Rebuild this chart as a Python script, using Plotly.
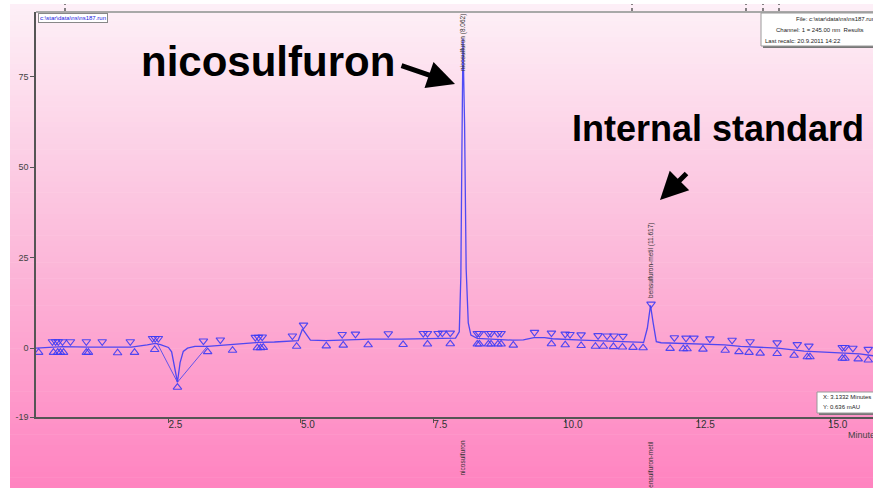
import plotly.graph_objects as go

# ---------------- data ----------------
time_min = [0.00, 0.30, 0.50, 1.00, 1.50, 1.80, 2.10, 2.25, 2.35, 2.50, 2.56, 2.62, 2.67, 2.72,
            2.78, 2.86, 3.00, 3.24, 3.50, 3.70, 4.00, 4.20, 4.50, 4.80, 4.95, 5.03, 5.18,
            5.48, 5.80, 6.30, 6.90, 7.40, 7.70, 7.92, 7.99, 8.02, 8.04, 8.06, 8.09, 8.12,
            8.16, 8.21, 8.33, 8.60, 9.00, 9.20, 9.40, 9.60, 9.75, 10.30, 10.90, 11.30,
            11.47, 11.54, 11.60, 11.65, 11.71, 11.80, 12.00, 12.30, 12.60, 13.00, 13.30,
            13.70, 14.00, 14.50, 14.90, 15.30, 15.55, 15.80]
signal_mau = [0.0, 0.3, 0.4, 0.3, 0.2, 0.3, 0.9, 1.3, 1.0, 0.2, -1.0, -6.0, -9.4, -4.0,
              -0.9, 0.0, 0.5, 0.5, 0.8, 0.9, 1.3, 1.6, 1.7, 1.9, 2.1, 5.3, 2.2,
              2.1, 2.3, 2.5, 2.5, 2.6, 2.7, 2.8, 4.5, 20.0, 55.0, 85.5, 62.0, 22.0,
              7.0, 3.6, 2.7, 2.5, 2.2, 2.3, 2.9, 2.9, 2.6, 2.2, 1.9, 1.7,
              1.6, 5.5, 11.8, 7.0, 1.8, 1.5, 1.4, 1.3, 1.2, 0.9, 0.5,
              0.1, 0.0, -0.8, -1.1, -1.3, -1.6, -2.1]

# integration baseline drawn across the negative dip
dip_base_t = [2.29, 2.67, 3.24]
dip_base_y = [1.3, -9.4, 0.6]

# peak start markers (drawn above trace)
start_t = [0.31, 0.37, 0.42, 0.50, 0.65, 0.95, 1.25, 1.78, 2.20, 2.25, 2.31, 3.16, 3.48, 4.14,
           4.20, 4.27, 4.84, 5.05, 5.78, 6.03, 6.65, 7.31, 7.39, 7.59, 7.67, 7.82, 8.33, 8.37,
           8.54, 8.59, 8.72, 8.78, 9.41, 9.73, 9.99, 10.08, 10.29, 10.61, 10.78, 10.91, 11.08,
           11.61, 12.05, 12.27, 12.42, 12.72, 13.14, 13.48, 13.99, 14.37, 14.59, 15.22, 15.27,
           15.42, 15.71]
start_y = [1.8, 1.8, 1.8, 1.8, 1.8, 1.8, 1.8, 1.8, 2.7, 2.7, 2.7, 2.0, 2.3, 3.0,
           3.0, 3.1, 3.4, 6.4, 3.8, 3.9, 4.0, 4.1, 4.1, 4.1, 4.2, 4.2, 4.1, 4.1,
           4.1, 4.1, 4.1, 4.1, 4.4, 4.2, 3.9, 3.8, 3.7, 3.5, 3.4, 3.4, 3.3,
           12.2, 2.9, 2.8, 2.8, 2.6, 2.2, 1.8, 1.5, 1.0, 0.6, 0.2, 0.2,
           0.0, -0.3]

# peak end markers (drawn below trace)
end_t = [0.05, 0.33, 0.41, 0.46, 0.52, 0.95, 0.99, 1.54, 1.86, 2.24, 2.67, 3.24, 3.71, 4.18,
         4.24, 4.29, 4.92, 5.48, 5.80, 6.27, 6.93, 7.39, 7.82, 8.33, 8.37, 8.54, 8.59, 8.72,
         8.78, 9.01, 9.73, 9.99, 10.29, 10.56, 10.71, 10.90, 11.07, 11.27, 11.46, 11.97, 12.22,
         12.29, 12.59, 13.01, 13.27, 13.46, 13.67, 13.99, 14.31, 14.56, 14.61, 15.22, 15.27,
         15.52, 15.71]
end_y = [-1.2, -1.2, -1.2, -1.2, -1.2, -1.2, -1.2, -1.3, -1.2, -0.4, -10.8, -1.0, -0.6, 0.1,
         0.1, 0.2, 0.5, 0.6, 0.8, 0.9, 1.0, 1.1, 1.2, 1.1, 1.1, 1.1, 1.1, 1.1,
         1.1, 0.8, 1.2, 0.9, 0.7, 0.5, 0.5, 0.4, 0.3, 0.2, 0.1, -0.1, -0.2,
         -0.2, -0.3, -0.6, -1.0, -1.2, -1.4, -1.5, -2.0, -2.4, -2.4, -2.8, -2.8,
         -3.0, -3.3]

x_tick_vals = [2.5, 5.0, 7.5, 10.0, 12.5, 15.0]
x_tick_text = ["2.5", "5.0", "7.5", "10.0", "12.5", "15.0"]
y_tick_vals = [-19, 0, 25, 50, 75]
y_tick_text = ["-19", "0", "25", "50", "75"]

peak_names = ["nicosulfuron", "bensulfuron-metil"]
peak_times = [8.062, 11.617]
peak_heights = [85.5, 11.8]

# ---------------- layout helpers ----------------
W, H = 873, 488
L, R, T, B = 36, 0, 12, 71
PW, PH = W - L - R, H - T - B


def px(xp):
    return (xp - L) / PW


def py(yp):
    return (H - B - yp) / PH


fig = go.Figure()

fig.add_trace(go.Scatter(x=dip_base_t, y=dip_base_y, mode="lines",
                         line=dict(color="rgba(70,70,240,0.85)", width=1),
                         hoverinfo="skip", showlegend=False))
fig.add_trace(go.Scatter(x=time_min, y=signal_mau, mode="lines",
                         line=dict(color="rgba(60,60,245,0.9)", width=1.3),
                         showlegend=False))
fig.add_trace(go.Scatter(x=start_t, y=start_y, mode="markers",
                         marker=dict(symbol="triangle-down-open", size=7.5,
                                     color="rgba(60,60,245,0.9)", line=dict(width=1.1)),
                         showlegend=False))
fig.add_trace(go.Scatter(x=end_t, y=end_y, mode="markers",
                         marker=dict(symbol="triangle-up-open", size=7.5,
                                     color="rgba(60,60,245,0.9)", line=dict(width=1.1)),
                         showlegend=False))

shapes = []
# gradient background bands
stops = [(4, (253, 240, 247)), (250, (252, 186, 218)), (488, (255, 131, 192))]
n = 90
y_top, y_bot = 4, 488
for i in range(n):
    a = y_top + (y_bot - y_top) * i / n
    b = y_top + (y_bot - y_top) * (i + 1) / n
    m = (a + b) / 2
    if m <= stops[1][0]:
        f = (m - stops[0][0]) / (stops[1][0] - stops[0][0])
        c0, c1 = stops[0][1], stops[1][1]
    else:
        f = (m - stops[1][0]) / (stops[2][0] - stops[1][0])
        c0, c1 = stops[1][1], stops[2][1]
    col = tuple(round(c0[k] + (c1[k] - c0[k]) * f) for k in range(3))
    shapes.append(dict(type="rect", xref="paper", yref="paper", layer="below",
                       x0=px(10), x1=px(W + 2), y0=py(b + 0.6), y1=py(a),
                       fillcolor="rgb(%d,%d,%d)" % col, line=dict(width=0)))
# top frame line
shapes.append(dict(type="line", xref="paper", yref="paper", x0=0, x1=1.01,
                   y0=py(12), y1=py(12), line=dict(color="#a8a8a8", width=2)))
# small event marks above frame
for xm in [65, 632, 746, 763, 779]:
    shapes.append(dict(type="line", xref="paper", yref="paper", x0=px(xm), x1=px(xm),
                       y0=py(11), y1=py(4), line=dict(color="#444", width=1.3, dash="dot")))
# info box top right (shadow + box)
shapes.append(dict(type="rect", xref="paper", yref="paper", x0=px(763), x1=px(W + 10),
                   y0=py(48), y1=py(15), fillcolor="#777", line=dict(width=0)))
shapes.append(dict(type="rect", xref="paper", yref="paper", x0=px(761), x1=px(W + 10),
                   y0=py(46), y1=py(13), fillcolor="white", line=dict(color="#999", width=1)))
# cursor box bottom right
shapes.append(dict(type="rect", xref="paper", yref="paper", x0=px(819), x1=px(W + 10),
                   y0=py(415), y1=py(394), fillcolor="#777", line=dict(width=0)))
shapes.append(dict(type="rect", xref="paper", yref="paper", x0=px(817), x1=px(W + 10),
                   y0=py(413), y1=py(392), fillcolor="white", line=dict(color="#999", width=1)))

ann = []
small = dict(family="Liberation Sans, Arial, sans-serif", size=6, color="#222")
# file name box top left
ann.append(dict(xref="paper", yref="paper", x=px(38), y=py(13), xanchor="left", yanchor="top",
                text="c:\\star\\data\\ns\\ns187.run", showarrow=False,
                font=dict(family="Liberation Sans, Arial, sans-serif", size=6, color="#2020e0"),
                bgcolor="white", bordercolor="#888", borderwidth=1, borderpad=1))
ann.append(dict(xref="paper", yref="paper", x=px(877), y=py(19), xanchor="right", yanchor="middle",
                text="File: c:\\star\\data\\ns\\ns187.run", showarrow=False, font=small))
ann.append(dict(xref="paper", yref="paper", x=px(820), y=py(30), xanchor="center", yanchor="middle",
                text="Channel: 1 = 245.00 nm  Results", showarrow=False, font=small))
ann.append(dict(xref="paper", yref="paper", x=px(763), y=py(41), xanchor="left", yanchor="middle",
                text="Last recalc: 20.9.2011 14:22", showarrow=False, font=small))
ann.append(dict(xref="paper", yref="paper", x=px(821), y=py(397), xanchor="left", yanchor="middle",
                text="X: 3.1332 Minutes", showarrow=False, font=small))
ann.append(dict(xref="paper", yref="paper", x=px(821), y=py(407), xanchor="left", yanchor="middle",
                text="Y: 0.636 mAU", showarrow=False, font=small))
ann.append(dict(xref="paper", yref="paper", x=px(846), y=py(435), xanchor="left", yanchor="middle",
                text="Minutes", showarrow=False,
                font=dict(family="Liberation Sans, Arial, sans-serif", size=9, color="#444")))

# vertical peak labels
lab_font = dict(family="Liberation Sans, Arial, sans-serif", size=6.5, color="#333")
ann.append(dict(x=peak_times[0], xref="x", y=py(12.5), yref="paper", xanchor="center",
                yanchor="top", textangle=-90, showarrow=False, font=lab_font,
                text="%s (%.3f)" % (peak_names[0], peak_times[0])))
ann.append(dict(x=peak_times[1], xref="x", y=peak_heights[1] + 1.5, yref="y", xanchor="center",
                yanchor="bottom", textangle=-90, showarrow=False, font=lab_font,
                text="%s (%.3f)" % (peak_names[1], peak_times[1])))
for nm, t in zip(peak_names, peak_times):
    ann.append(dict(x=t - 0.02, xref="x", y=py(439), yref="paper", xanchor="center",
                    yanchor="top", textangle=-90, showarrow=False, font=lab_font, text=nm))

# big callouts
big = dict(family="Liberation Sans, Arial, sans-serif", color="black")
ann.append(dict(xref="paper", yref="paper", x=px(268), y=py(61), xanchor="center",
                yanchor="middle", text="<b>nicosulfuron</b>", showarrow=False,
                font=dict(size=42, **big)))
ann.append(dict(xref="paper", yref="paper", x=px(718), y=py(128), xanchor="center",
                yanchor="middle", text="<b>Internal standard</b>", showarrow=False,
                font=dict(size=36, **big)))
ann.append(dict(xref="paper", yref="paper", x=px(455), y=py(84), ax=-55, ay=-19,
                text="", showarrow=True, arrowhead=2, arrowsize=1.1, arrowwidth=5,
                arrowcolor="black"))
ann.append(dict(xref="paper", yref="paper", x=px(660), y=py(200), ax=28, ay=-28,
                text="", showarrow=True, arrowhead=2, arrowsize=1.1, arrowwidth=5,
                arrowcolor="black"))

fig.update_layout(
    width=W, height=H, margin=dict(l=L, r=R, t=T, b=B, pad=0),
    paper_bgcolor="white", plot_bgcolor="rgba(0,0,0,0)",
    shapes=shapes, annotations=ann, showlegend=False,
    font=dict(family="Liberation Sans, Arial, sans-serif", color="#333"),
    xaxis=dict(range=[0, 15.8], tickvals=x_tick_vals, ticktext=x_tick_text,
               showgrid=False, zeroline=False, showline=True, linecolor="#555", linewidth=1.5,
               ticks="outside", ticklen=4, tickcolor="#555", tickfont=dict(size=10, color="#333"),
               ticklabelshift=7, ticklabelstandoff=-7),
    yaxis=dict(range=[-19, 92.8], tickvals=y_tick_vals, ticktext=y_tick_text,
               showgrid=False, zeroline=False, showline=True, linecolor="#555", linewidth=1.5,
               ticks="outside", ticklen=4, tickcolor="#555", tickfont=dict(size=9, color="#444")),
)

fig.write_html("out.html", config={"displayModeBar": False},
               post_script="document.body.style.margin='0';document.body.style.overflow='hidden';")
